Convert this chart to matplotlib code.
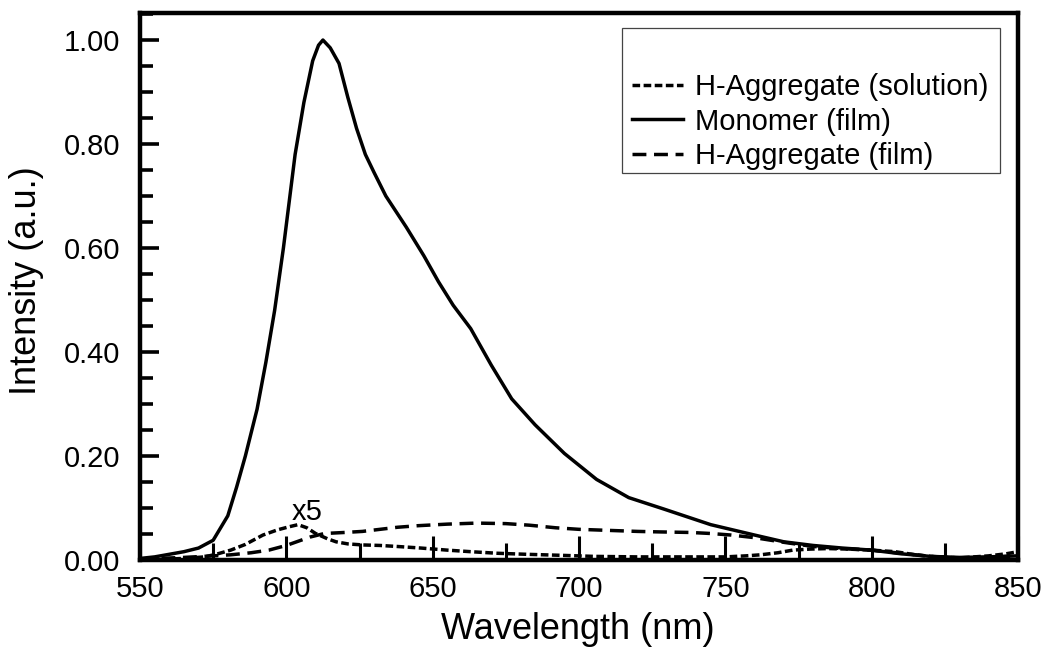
"""
Emission spectra: monomer vs H-aggregate
"""

import matplotlib
matplotlib.use('Agg')
import matplotlib.pyplot as plt
from matplotlib.patches import Rectangle
from matplotlib.ticker import MultipleLocator, FormatStrFormatter


# =============================================================================
# DATA
# =============================================================================

mono_wl = [550, 555, 560, 565, 570, 575, 580, 583, 586, 590, 593, 596, 599,
           603, 606, 609, 611, 612.5, 615, 618, 621, 624, 627, 630, 634, 641,
           647, 652, 657, 663, 670, 677, 685, 695, 706, 717, 729, 745, 760,
           770, 780, 790, 800, 810, 820, 830, 840, 850]
mono_int = [0.003, 0.006, 0.011, 0.016, 0.023, 0.038, 0.085, 0.14, 0.20, 0.29,
            0.38, 0.48, 0.60, 0.78, 0.88, 0.96, 0.99, 1.00, 0.985, 0.955,
            0.89, 0.83, 0.78, 0.745, 0.70, 0.64, 0.585, 0.535, 0.49, 0.445,
            0.375, 0.31, 0.26, 0.205, 0.155, 0.12, 0.098, 0.068, 0.048,
            0.035, 0.028, 0.023, 0.019, 0.012, 0.007, 0.005, 0.006, 0.008]

film_wl = [550, 556, 565, 575, 581, 588, 594, 600, 604, 608, 613, 620, 626,
           632, 638, 645, 655, 665, 675, 683, 692, 700, 710, 720, 728, 738,
           745, 752, 760, 770, 780, 790, 800, 810, 820, 830, 840, 850]
film_int = [0.000, 0.003, 0.005, 0.008, 0.010, 0.014, 0.019, 0.028, 0.036,
            0.044, 0.051, 0.053, 0.055, 0.059, 0.063, 0.066, 0.069, 0.071,
            0.070, 0.067, 0.062, 0.059, 0.057, 0.055, 0.054, 0.053, 0.051,
            0.048, 0.043, 0.034, 0.026, 0.022, 0.019, 0.013, 0.007, 0.004,
            0.005, 0.008]

sol_wl = [550, 565, 572, 576, 581, 586, 592, 597, 601, 604, 607, 610, 614,
          617, 621, 626, 632, 638, 646, 655, 663, 672, 682, 694, 705, 720,
          735, 750, 757, 762, 768, 773, 779, 785, 792, 800, 808, 815, 822,
          830, 840, 846, 850]
sol_int = [0.000, 0.003, 0.006, 0.011, 0.019, 0.030, 0.048, 0.058, 0.064,
           0.068, 0.062, 0.051, 0.041, 0.035, 0.031, 0.029, 0.028, 0.026,
           0.023, 0.019, 0.016, 0.013, 0.011, 0.009, 0.007, 0.006, 0.006,
           0.006, 0.008, 0.010, 0.014, 0.019, 0.021, 0.022, 0.021, 0.019,
           0.016, 0.010, 0.006, 0.004, 0.008, 0.012, 0.016]


# =============================================================================
# PLOT
# =============================================================================

plt.rcParams['font.family'] = ['Liberation Sans', 'DejaVu Sans']

fig = plt.figure(figsize=(10.44, 6.53), dpi=100)
ax = fig.add_axes([0.1341, 0.1424, 0.8410, 0.8377])

lw = 2.5
ax.plot(sol_wl, sol_int, color='black', lw=lw, linestyle=(0, (2.2, 1.0)),
        label='H-Aggregate (solution)')
ax.plot(mono_wl, mono_int, color='black', lw=lw, linestyle='-',
        label='Monomer (film)')
ax.plot(film_wl, film_int, color='black', lw=lw, linestyle=(0, (4.0, 2.2)),
        label='H-Aggregate (film)')

ax.text(607, 0.092, 'x5', fontsize=21, ha='center', va='center')

# Axes
ax.set_xlim(550, 850)
ax.set_ylim(0, 1.052)
ax.xaxis.set_major_locator(MultipleLocator(50))
ax.xaxis.set_minor_locator(MultipleLocator(25))
ax.yaxis.set_major_locator(MultipleLocator(0.2))
ax.yaxis.set_minor_locator(MultipleLocator(0.05))
ax.yaxis.set_major_formatter(FormatStrFormatter('%.2f'))

ax.tick_params(axis='x', which='major', direction='in', length=17, width=2.2,
               labelsize=21, pad=11, top=False)
ax.tick_params(axis='x', which='minor', direction='in', length=12, width=2.2,
               top=False)
ax.tick_params(axis='y', which='major', direction='in', length=14, width=2.6,
               labelsize=21, pad=14, right=False)
ax.tick_params(axis='y', which='minor', direction='in', length=9.5, width=2.6,
               right=False)

for side in ['left', 'right', 'top', 'bottom']:
    ax.spines[side].set_linewidth(3.2)

ax.set_xlabel('Wavelength (nm)', fontsize=26)
ax.set_ylabel('Intensity (a.u.)', fontsize=26)
ax.xaxis.set_label_coords(0.499, -0.095)
ax.yaxis.set_label_coords(-0.109, 0.51)

# Legend with hand-placed frame
ax.add_patch(Rectangle((0.549, 0.7075), 0.4305, 0.2651, transform=ax.transAxes,
                       fill=False, edgecolor='#444444', lw=0.9, zorder=6))
ax.legend(loc='upper left', bbox_to_anchor=(0.5604, 0.890), frameon=False,
          fontsize=21, handlelength=1.75, handletextpad=0.4, labelspacing=0.22,
          borderpad=0, borderaxespad=0)

fig.savefig('out.png', dpi=100, facecolor='white')
